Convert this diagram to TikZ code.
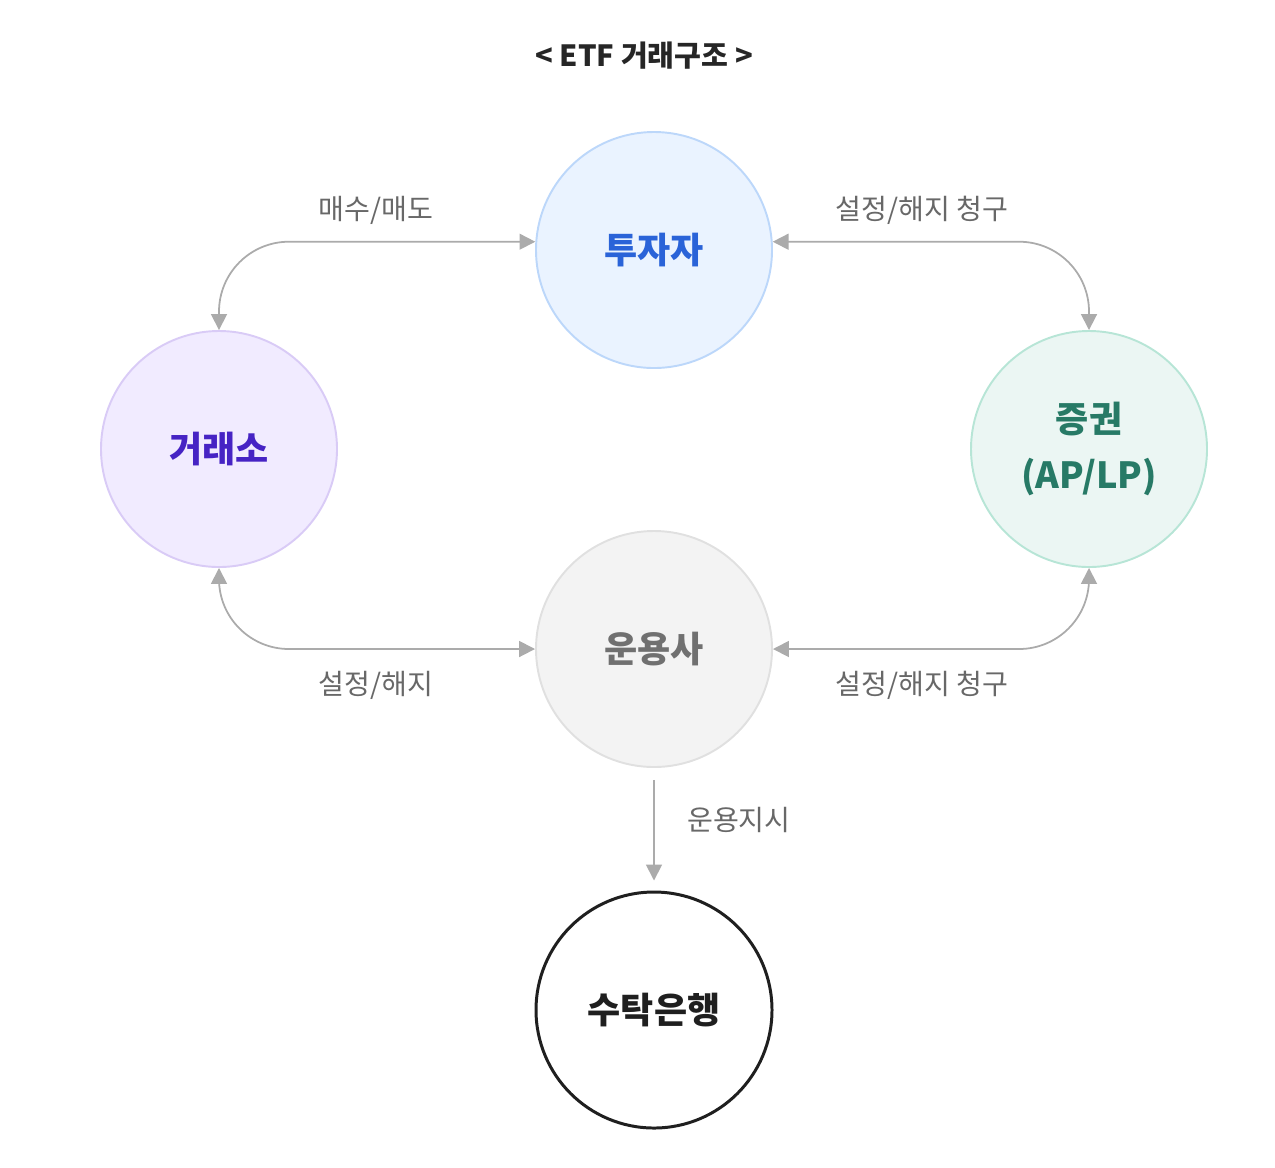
\documentclass[tikz,border=0pt]{standalone}
\usepackage{fontspec}
\setmainfont{Noto Sans CJK KR}
\usetikzlibrary{arrows.meta}

\definecolor{invfill}{HTML}{EAF3FF}
\definecolor{invline}{HTML}{BCD7FA}
\definecolor{invtext}{HTML}{2A63D8}
\definecolor{exfill}{HTML}{F1EBFF}
\definecolor{exline}{HTML}{D9CBF6}
\definecolor{extext}{HTML}{4623C4}
\definecolor{secfill}{HTML}{EBF6F3}
\definecolor{secline}{HTML}{B7E5D6}
\definecolor{sectext}{HTML}{277A66}
\definecolor{amcfill}{HTML}{F3F3F3}
\definecolor{amcline}{HTML}{E0E0E0}
\definecolor{amctext}{HTML}{707070}
\definecolor{linegray}{HTML}{ABABAB}
\definecolor{labelgray}{HTML}{686868}

\begin{document}
\begin{tikzpicture}[
    >={Triangle[length=9pt, width=9pt]},
    party/.style={circle, minimum size=4.72cm, line width=1.1pt,
        align=center, font=\bfseries\fontsize{20.5}{32}\selectfont},
    conn/.style={draw=linegray, line width=1pt, rounded corners=1.4cm},
    flowlabel/.style={font=\fontsize{16}{19}\selectfont, text=labelgray},
    heading/.style={font=\bfseries\fontsize{16.6}{20}\selectfont, text=black!85},
]

% === Canvas ===
\useasboundingbox (0,0) rectangle (25.5,-23.34);

% === Column / row positions ===
\def\colL{4.38}    % 거래소
\def\colM{13.08}   % 투자자, 운용사, 수탁은행
\def\colR{21.78}   % 증권
\def\rowT{-5.0}
\def\rowM{-8.98}
\def\rowB{-12.98}
\def\rowS{-20.2}

% === Title ===
\node[heading] (title) at (12.88, -1.12) {< ETF 거래구조 >};

% === Parties ===
\node[party, fill=invfill, draw=invline, text=invtext] (inv)
    at (\colM, \rowT) {투자자};
\node[party, fill=exfill, draw=exline, text=extext] (exch)
    at (\colL, \rowM) {거래소};
\node[party, fill=secfill, draw=secline, text=sectext] (sec)
    at (\colR, \rowM) {증권\\(AP/LP)};
\node[party, fill=amcfill, draw=amcline, text=amctext] (amc)
    at (\colM, \rowB) {운용사};
\node[party, fill=white, draw=black!88, line width=1.7pt, text=black!88] (bank)
    at (\colM, \rowS) {수탁은행};

% === Connectors ===
\draw[conn, <->] (exch.north) |- (inv.176);
\draw[conn, <->] (inv.4) -| (sec.north);
\draw[conn, <->] (exch.south) |- (amc.west);
\draw[conn, <->] (amc.east) -| (sec.south);
\draw[conn, ->, shorten <=0.24cm, shorten >=0.2cm] (amc.south) -- (bank.north);

% === Labels ===
\node[flowlabel] (lbtrade) at (7.52, -4.2) {매수/매도};
\node[flowlabel] (lbreqtop) at (18.44, -4.2) {설정/해지 청구};
\node[flowlabel] (lbcreate) at (7.52, -13.7) {설정/해지};
\node[flowlabel] (lbreqbot) at (18.44, -13.7) {설정/해지 청구};
\node[flowlabel, anchor=west] (lborder) at (13.62, -16.4) {운용지시};

\end{tikzpicture}
\end{document}
